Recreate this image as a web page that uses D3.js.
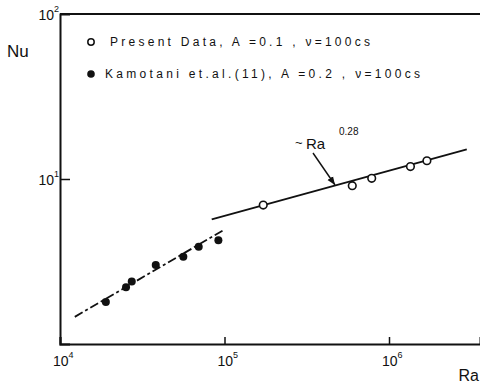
<!DOCTYPE html>
<html><head><meta charset="utf-8">
<script src="https://cdn.jsdelivr.net/npm/d3@7"></script>
<style>body{margin:0;background:#fff}svg{display:block}text{font-family:"Liberation Sans",Arial,sans-serif;fill:#111}</style>
</head><body><div id="c"></div>
<script>
// Data
const presentRa = [1.72e5, 5.98e5, 7.85e5, 1.35e6, 1.70e6];
const presentNu = [6.95, 9.11, 10.1, 11.9, 12.9];
const kamotaniRa = [1.90e4, 2.52e4, 2.73e4, 3.82e4, 5.62e4, 6.97e4, 9.18e4];
const kamotaniNu = [1.80, 2.21, 2.39, 3.01, 3.38, 3.89, 4.25];
const fitPresentRa = [8.36e4, 2.97e6];
const fitPresentNu = [5.70, 15.1];
const fitKamotaniRa = [1.23e4, 1.007e5];
const fitKamotaniNu = [1.46, 4.96];
const xTicks = [1e4, 1e5, 1e6];
const xTickExp = ["4", "5", "6"];
const yTicks = [10, 100];
const yTickExp = ["1", "2"];
const legendLabels = ["Present Data, A =0.1 , \u03BD=100cs", "Kamotani et.al.(11), A =0.2 , \u03BD=100cs"];

const W = 480, H = 383;
const svg = d3.select("#c").append("svg").attr("width", W).attr("height", H);
const x = d3.scaleLog().domain([1e4, Math.pow(10, 4 + 420 / 164.5)]).range([60, 480]);
const y = d3.scaleLog().domain([1, 100]).range([344, 14]);

// axes
const xAxis = d3.axisBottom(x).tickValues(xTicks).tickSize(-7).tickFormat("");
const gx = svg.append("g").attr("transform", "translate(0,344)").call(xAxis);
const yAxis = d3.axisLeft(y).tickValues(yTicks).tickSize(-10).tickFormat("");
const gy = svg.append("g").attr("transform", "translate(60,0)").call(yAxis);
[gx, gy].forEach(g => {
  g.selectAll("path.domain").attr("stroke", "#111").attr("stroke-width", 2);
  g.selectAll(".tick line").attr("stroke", "#111").attr("stroke-width", 1.5);
});
gy.selectAll(".tick").filter(d => d === 100).select("line").remove();
// top border
svg.append("line").attr("x1", x.range()[0]).attr("x2", x.range()[1])
  .attr("y1", y(100)).attr("y2", y(100)).attr("stroke", "#111").attr("stroke-width", 2);

// tick labels
xTicks.forEach((v, i) => {
  const t = svg.append("text").attr("x", x(v) - 7).attr("y", 366).attr("font-size", 14);
  t.append("tspan").text("10");
  t.append("tspan").attr("font-size", 9).attr("dy", -8).text(xTickExp[i]);
});
yTicks.forEach((v, i) => {
  const t = svg.append("text").attr("x", 59).attr("y", y(v) + 6).attr("font-size", 14).attr("text-anchor", "end");
  t.append("tspan").text("10");
  t.append("tspan").attr("font-size", 9).attr("dy", -8).text(yTickExp[i]);
});

// axis titles
svg.append("text").attr("x", 7).attr("y", 57).attr("font-size", 17).text("Nu");
svg.append("text").attr("x", 479).attr("y", 381).attr("font-size", 16).attr("text-anchor", "end").text("Ra");

// fit lines
const line = d3.line().x(d => x(d[0])).y(d => y(d[1]));
svg.append("path").datum(d3.zip(fitPresentRa, fitPresentNu)).attr("d", line)
  .attr("fill", "none").attr("stroke", "#111").attr("stroke-width", 1.8);
svg.append("path").datum(d3.zip(fitKamotaniRa, fitKamotaniNu)).attr("d", line)
  .attr("fill", "none").attr("stroke", "#111").attr("stroke-width", 1.8).attr("stroke-dasharray", "9,3,3,3");

// points
svg.selectAll("circle.k").data(d3.zip(kamotaniRa, kamotaniNu)).join("circle").attr("class", "k")
  .attr("cx", d => x(d[0])).attr("cy", d => y(d[1])).attr("r", 4).attr("fill", "#111");
svg.selectAll("circle.p").data(d3.zip(presentRa, presentNu)).join("circle").attr("class", "p")
  .attr("cx", d => x(d[0])).attr("cy", d => y(d[1])).attr("r", 3.8).attr("fill", "#fff")
  .attr("stroke", "#111").attr("stroke-width", 1.6);

// annotation
svg.append("defs").append("marker").attr("id", "ah").attr("viewBox", "0 0 10 10")
  .attr("refX", 10).attr("refY", 5).attr("markerWidth", 6).attr("markerHeight", 6).attr("orient", "auto")
  .append("path").attr("d", "M0,1 L10,5 L0,9 Z").attr("fill", "#111");
svg.append("line").attr("x1", 313).attr("y1", 153).attr("x2", 335).attr("y2", 185)
  .attr("stroke", "#111").attr("stroke-width", 1.4).attr("marker-end", "url(#ah)");
svg.append("text").attr("x", 295).attr("y", 147).attr("font-size", 13).text("~");
svg.append("text").attr("x", 306).attr("y", 149).attr("font-size", 15).text("Ra");
svg.append("text").attr("x", 339).attr("y", 135).attr("font-size", 10).text("0.28");

// legend
svg.append("circle").attr("cx", 91).attr("cy", 42).attr("r", 3.2).attr("fill", "#fff").attr("stroke", "#111").attr("stroke-width", 1.5);
svg.append("circle").attr("cx", 91).attr("cy", 74).attr("r", 3.8).attr("fill", "#111");
svg.append("text").attr("x", 110).attr("y", 46).attr("font-size", 12).attr("textLength", 260)
  .attr("lengthAdjust", "spacing").text(legendLabels[0]);
svg.append("text").attr("x", 105).attr("y", 78).attr("font-size", 12).attr("textLength", 315)
  .attr("lengthAdjust", "spacing").text(legendLabels[1]);
</script></body></html>
